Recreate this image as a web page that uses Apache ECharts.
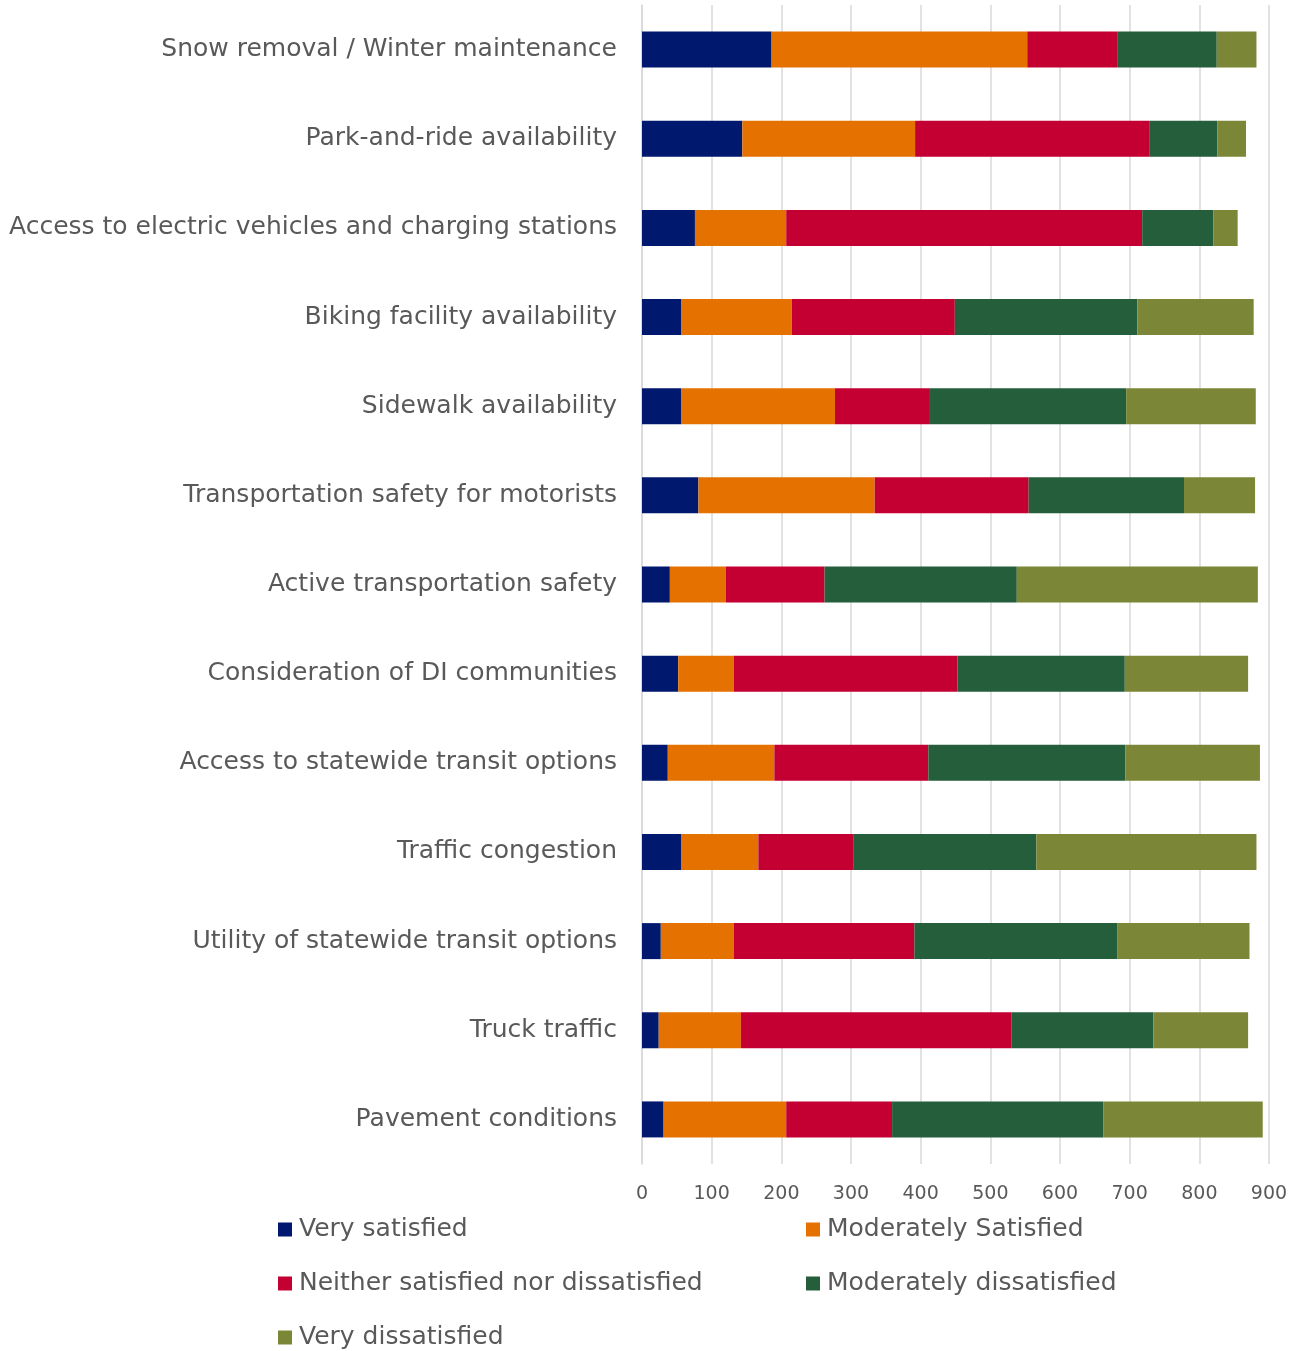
<!DOCTYPE html>
<html>
<head>
<meta charset="utf-8">
<script src="https://cdn.jsdelivr.net/npm/echarts@6/dist/echarts.min.js"></script>
<style>html,body{margin:0;padding:0;background:#fff;}#c{width:1301px;height:1351px;}</style>
</head>
<body>
<div id="c"></div>
<script>
const categories = [
  "Snow removal / Winter maintenance",
  "Park-and-ride availability",
  "Access to electric vehicles and charging stations",
  "Biking facility availability",
  "Sidewalk availability",
  "Transportation safety for motorists",
  "Active transportation safety",
  "Consideration of DI communities",
  "Access to statewide transit options",
  "Traffic congestion",
  "Utility of statewide transit options",
  "Truck traffic",
  "Pavement conditions"
];
const seriesNames = ["Very satisfied","Moderately Satisfied","Neither satisfied nor dissatisfied","Moderately dissatisfied","Very dissatisfied"];
const verySatisfied        = [186, 144,  76,  56,  56,  81,  40,  52,  37,  56,  27,  24,  31];
const moderatelySatisfied  = [367, 248, 131, 159, 221, 253,  80,  80, 153, 111, 105, 118, 176];
const neither              = [130, 336, 511, 234, 135, 221, 142, 321, 221, 137, 259, 388, 152];
const moderatelyDissat     = [142,  98, 102, 262, 283, 223, 276, 240, 283, 262, 291, 204, 303];
const veryDissat           = [ 57,  41,  35, 167, 186, 102, 346, 177, 193, 316, 190, 136, 229];
const xTicks = {min: 0, max: 900, interval: 100};
const colors = ["#00196E","#E57200","#C40032","#245E3B","#7B8636"];
const values = [verySatisfied, moderatelySatisfied, neither, moderatelyDissat, veryDissat];

const FONT = "'DejaVu Sans', sans-serif";
const chart = echarts.init(document.getElementById('c'), null, {renderer: 'canvas'});

const legendPos = [
  {left: 278, top: 1217}, {left: 806, top: 1217},
  {left: 278, top: 1271}, {left: 806, top: 1271},
  {left: 278, top: 1325}
];

chart.setOption({
  animation: false,
  color: colors,
  grid: {left: 642, right: 32, top: 5, bottom: 187, containLabel: false},
  xAxis: {
    type: 'value', min: xTicks.min, max: xTicks.max, interval: xTicks.interval,
    axisLine: {show: false}, axisTick: {show: false},
    splitLine: {show: true, lineStyle: {color: '#d9d9d9', width: 1.5}},
    axisLabel: {color: '#595959', fontSize: 19, fontFamily: FONT, margin: 21}
  },
  yAxis: {
    type: 'category', data: categories, inverse: true,
    axisLine: {show: true, lineStyle: {color: '#d9d9d9', width: 1.5}},
    axisTick: {show: false},
    axisLabel: {color: '#595959', fontSize: 25, fontFamily: FONT, margin: 25, lineHeight: 25, padding: [6,0,0,0]}
  },
  legend: legendPos.map((p, i) => ({
    data: [seriesNames[i]], left: p.left, top: p.top, orient: 'horizontal', padding: 0,
    icon: 'rect', itemWidth: 14, itemHeight: 14, itemGap: 0,
    textStyle: {color: '#595959', fontSize: 25, fontFamily: FONT, padding: [0,0,0,2]}
  })),
  series: seriesNames.map((n, i) => ({
    name: n, type: 'bar', stack: 'total', data: values[i], barWidth: 36,
    itemStyle: {color: colors[i]}
  }))
});
</script>
</body>
</html>
